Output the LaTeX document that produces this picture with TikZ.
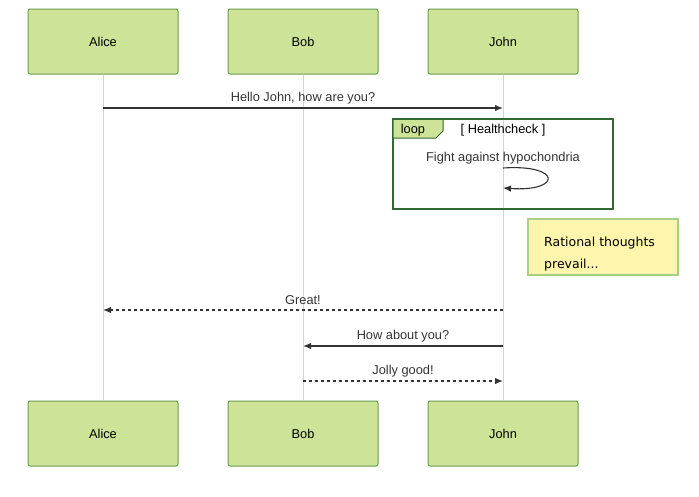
\documentclass[tikz,border=0pt]{standalone}
\usepackage{fontspec}
\setmainfont{Liberation Sans}
\newfontfamily\notefont{DejaVu Sans}
\usetikzlibrary{arrows.meta}
\definecolor{actfill}{HTML}{CDE498}
\definecolor{actline}{HTML}{6B9A4B}
\definecolor{loopline}{HTML}{326932}
\definecolor{notefill}{HTML}{FFF5AD}
\definecolor{noteline}{HTML}{A9CE85}
\definecolor{msg}{HTML}{333333}
\definecolor{life}{HTML}{D3D3D3}
\tikzset{
  x=1pt, y=-1pt,
  actor/.style={draw=actline, fill=actfill, line width=1pt, rounded corners=2pt,
    minimum width=150pt, minimum height=65pt, inner sep=0pt, font=\fontsize{12.8}{15}\selectfont},
  lifeline/.style={draw=life, line width=1pt},
  msgline/.style={draw=msg, line width=1.3pt, -{Latex[length=8pt,width=6.5pt]}},
  dashmsg/.style={msgline, dash pattern=on 3pt off 3pt},
  msglabel/.style={font=\fontsize{12.8}{15}\selectfont, text=msg, inner sep=0pt},
}
\begin{document}
\begin{tikzpicture}
\useasboundingbox (0,0) rectangle (699,496);
% actors
\node[actor] (at) at (103,41.5) {Alice};
\node[actor] (bt) at (303,41.5) {Bob};
\node[actor] (jt) at (503,41.5) {John};
\node[actor] (ab) at (103,433.5) {Alice};
\node[actor] (bb) at (303,433.5) {Bob};
\node[actor] (jb) at (503,433.5) {John};
% lifelines
\draw[lifeline] (at.south) -- (ab.north);
\draw[lifeline] (bt.south) -- (bb.north);
\draw[lifeline] (jt.south) -- (jb.north);
% coordinates on lifelines
\coordinate (a1) at (103,108); \coordinate (j1) at (503,108);
\coordinate (a2) at (103,310); \coordinate (j2) at (503,310);
\coordinate (b3) at (303,346); \coordinate (j3) at (503,346);
\coordinate (b4) at (303,381); \coordinate (j4) at (503,381);
\coordinate (js) at (503,168); \coordinate (je) at (503,188);
% message 1
\draw[msgline] (a1) -- (j1);
\node[msglabel] (l1) at (303,98.5) {Hello John, how are you?};
% loop
\draw[draw=loopline, line width=1.6pt] (393,119) rectangle (613,209);
\fill[actfill, draw=loopline, line width=1pt] (393,119) -- (443,119) -- (443,131) -- (436,138) -- (393,138) -- cycle;
\draw[draw=loopline, line width=1.6pt] (393,119) -- (613,119);
\node[msglabel, text=black] (looplbl) at (413,130) {loop};
\node[msglabel, text=black] (cond) at (503,130) {[ Healthcheck ]};
\node[msglabel] (l2) at (503,158.5) {Fight against hypochondria};
\draw[msgline, line width=1.1pt] (js) .. controls (562,164) and (562,192) .. (je);
% note
\node[draw=noteline, fill=notefill, line width=1.3pt, minimum width=150pt, minimum height=56pt, inner sep=0pt] (note) at (603,247) {};
\node[anchor=north west, align=left, inner sep=0pt, font=\notefont\fontsize{12.5}{22}\selectfont] (notetxt) at (544,237) {Rational thoughts\\prevail...};
% messages
\draw[dashmsg] (j2) -- (a2);
\node[msglabel] (l3) at (303,300.5) {Great!};
\draw[msgline] (j3) -- (b3);
\node[msglabel] (l4) at (403,336.5) {How about you?};
\draw[dashmsg] (b4) -- (j4);
\node[msglabel] (l5) at (403,371.5) {Jolly good!};
\end{tikzpicture}
\end{document}
